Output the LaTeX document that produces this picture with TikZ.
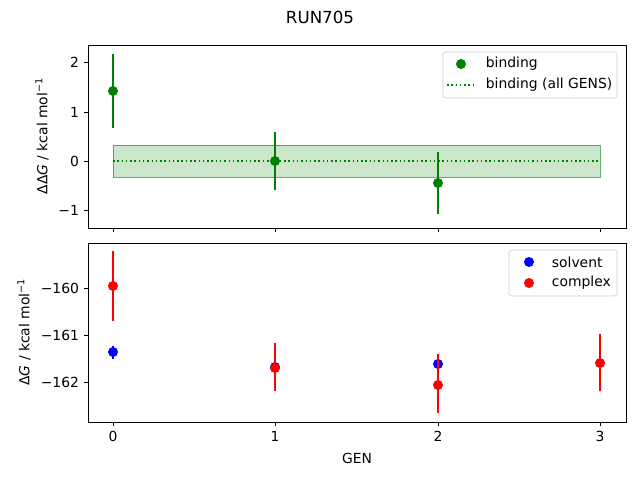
\documentclass[tikz,border=0pt]{standalone}
\usepackage{fontspec}
\setmainfont{DejaVu Sans}
\definecolor{mplgreen}{RGB}{0,128,0}
\begin{document}
\begin{tikzpicture}[x=0.72pt,y=-0.72pt,font=\fontsize{10}{12}\selectfont,
    axbox/.style={draw,line width=0.8*0.72pt},
    tk/.style={line width=0.8*0.72pt},
    ebar/.style={line width=1.5*0.72pt},
    dot/.style={fill=#1,draw=none}]
    \useasboundingbox (0,0) rectangle (640,480);
    \node[font=\fontsize{12}{14}\selectfont] (title) at (320,17) {RUN705};
    % top axes
    \fill[mplgreen,opacity=0.2] (113,145) rectangle (600,177);
    \draw[mplgreen,opacity=0.6,line width=0.5pt] (113,145) rectangle (600,177);
    \draw[mplgreen,dotted,line width=1.5*0.72pt] (113,161) -- (600,161);
    \foreach \x/\y/\a/\b in {113/91/54/128, 275/161/132/190, 438/183/152/214}{
        \draw[ebar,mplgreen] (\x,\a) -- (\x,\b);
        \fill[dot=mplgreen] (\x,\y) circle (5);
    }
    \draw[axbox] (88,45) rectangle (626,228);
    \foreach \v/\y in {2/62, 1/112, 0/161, −1/210}{
        \draw[tk] (88,\y) -- (84,\y) node[left] {\v};
    }
    \foreach \x in {113,275,438,600}{
        \draw[tk] (\x,228) -- (\x,232);
    }
    \node[rotate=90] (ylabtop) at (42,136) {ΔΔ\textit{G} / kcal mol\textsuperscript{−1}};
    % top legend
    \draw[rounded corners=2pt,draw=black!20,fill=white] (443,52) rectangle (617,98);
    \fill[dot=mplgreen] (461,64) circle (5);
    \node[anchor=west] (lgbind) at (481,64) {binding};
    \draw[mplgreen,dotted,line width=1.5*0.72pt] (447,85) -- (475,85);
    \node[anchor=west] (lgall) at (481,85) {binding (all GENS)};
    % bottom axes
    \foreach \x/\y/\a/\b in {113/352/346/359, 275/367/355/380, 438/364/354/375}{
        \draw[ebar,blue] (\x,\a) -- (\x,\b);
        \fill[dot=blue] (\x,\y) circle (5);
    }
    \foreach \x/\y/\a/\b in {113/286/251/321, 275/368/343/391, 438/385/354/413, 600/363/334/391}{
        \draw[ebar,red] (\x,\a) -- (\x,\b);
        \fill[dot=red] (\x,\y) circle (5);
    }
    \draw[axbox] (88,243) rectangle (626,422);
    \foreach \v/\y in {−160/288, −161/335, −162/382}{
        \draw[tk] (88,\y) -- (84,\y) node[left] {\v};
    }
    \foreach \v/\x in {0/113, 1/275, 2/438, 3/600}{
        \draw[tk] (\x,422) -- (\x,426) node[below] {\v};
    }
    \node (xlab) at (357,458) {GEN};
    \node[rotate=90] (ylabbot) at (24,332) {Δ\textit{G} / kcal mol\textsuperscript{−1}};
    % bottom legend
    \draw[rounded corners=2pt,draw=black!20,fill=white] (509,250) rectangle (617,296);
    \fill[dot=blue] (529,262) circle (5);
    \node[anchor=west] (lgsolv) at (547,262) {solvent};
    \fill[dot=red] (529,283) circle (5);
    \node[anchor=west] (lgcplx) at (547,283) {complex};
\end{tikzpicture}
\end{document}
